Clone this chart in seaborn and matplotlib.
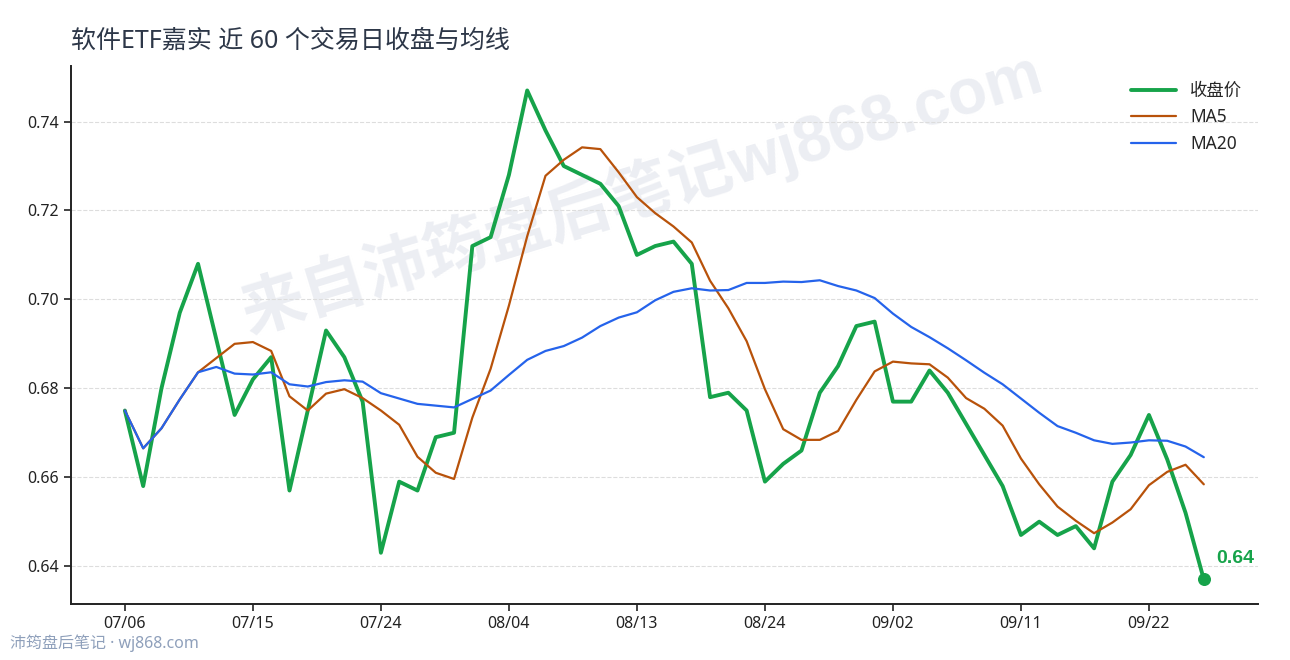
import numpy as np
import pandas as pd
import matplotlib
matplotlib.use("Agg")
import matplotlib.pyplot as plt
import seaborn as sns

# 60 trading days, 2020-07-06 .. 2020-09-25
dates = pd.bdate_range("2020-07-06", "2020-09-25").strftime("%m/%d").tolist()

close = [0.675, 0.658, 0.680, 0.697, 0.708, 0.691, 0.674, 0.682, 0.687, 0.657,
         0.675, 0.693, 0.687, 0.677, 0.643, 0.659, 0.657, 0.669, 0.670, 0.712,
         0.714, 0.728, 0.747, 0.738, 0.730, 0.728, 0.726, 0.721, 0.710, 0.712,
         0.713, 0.708, 0.678, 0.679, 0.675, 0.659, 0.663, 0.666, 0.679, 0.685,
         0.694, 0.695, 0.677, 0.677, 0.684, 0.679, 0.672, 0.665, 0.658, 0.647,
         0.650, 0.647, 0.649, 0.644, 0.659, 0.665, 0.674, 0.664, 0.652, 0.637]

ma5 = [0.6750, 0.6665, 0.6710, 0.6775, 0.6836, 0.6868, 0.6900, 0.6904, 0.6884, 0.6782,
       0.6750, 0.6788, 0.6798, 0.6778, 0.6750, 0.6718, 0.6646, 0.6610, 0.6596, 0.6734,
       0.6844, 0.6986, 0.7142, 0.7278, 0.7314, 0.7342, 0.7338, 0.7286, 0.7230, 0.7194,
       0.7164, 0.7128, 0.7042, 0.6980, 0.6906, 0.6798, 0.6708, 0.6684, 0.6684, 0.6704,
       0.6774, 0.6838, 0.6860, 0.6856, 0.6854, 0.6824, 0.6778, 0.6754, 0.6716, 0.6642,
       0.6584, 0.6534, 0.6502, 0.6474, 0.6498, 0.6528, 0.6582, 0.6612, 0.6628, 0.6584]

ma20 = [0.6750, 0.6665, 0.6710, 0.6775, 0.6836, 0.6848, 0.6833, 0.6831, 0.6836, 0.6809,
        0.6804, 0.6814, 0.6818, 0.6815, 0.6789, 0.6777, 0.6765, 0.6761, 0.6757, 0.6776,
        0.6795, 0.6830, 0.6864, 0.6884, 0.6895, 0.6914, 0.6940, 0.6959, 0.6971, 0.6998,
        0.7017, 0.7025, 0.7020, 0.7021, 0.7037, 0.7037, 0.7040, 0.7039, 0.7043, 0.7030,
        0.7020, 0.7003, 0.6968, 0.6938, 0.6915, 0.6890, 0.6863, 0.6835, 0.6809, 0.6777,
        0.6745, 0.6715, 0.6700, 0.6683, 0.6675, 0.6678, 0.6683, 0.6682, 0.6669, 0.6645]

df = pd.DataFrame({"idx": range(len(close)), "date": dates,
                   "close": close, "ma5": ma5, "ma20": ma20})

sns.set_theme(style="white")
plt.rcParams["font.family"] = ["Noto Sans", "Noto Sans CJK SC", "DejaVu Sans"]
plt.rcParams["axes.unicode_minus"] = False
bold_fam = ["Liberation Sans", "Noto Sans CJK SC", "DejaVu Sans"]

fig, ax = plt.subplots(figsize=(12.9, 6.6), dpi=100)
fig.subplots_adjust(left=0.055, right=0.975, top=0.90, bottom=0.085)

green = "#16a34a"
sns.lineplot(data=df, x="idx", y="close", ax=ax, color=green, linewidth=2.8, label="收盘价", zorder=3)
sns.lineplot(data=df, x="idx", y="ma5", ax=ax, color="#b8520a", linewidth=1.6, label="MA5", zorder=3)
sns.lineplot(data=df, x="idx", y="ma20", ax=ax, color="#2563eb", linewidth=1.6, label="MA20", zorder=3)

# last close marker + label
last = df.iloc[-1]
ax.scatter([last["idx"]], [last["close"]], color=green, s=70, zorder=5)
ax.annotate(f"{last['close']:.2f}", (last["idx"], last["close"]),
            xytext=(9, 9), textcoords="offset points", color=green,
            fontsize=14, fontweight="bold", family=bold_fam, va="bottom", ha="left")

ticks = list(range(0, len(dates), 7))
ax.set_xticks(ticks)
ax.set_xticklabels([dates[i] for i in ticks])
ax.set_yticks([0.64, 0.66, 0.68, 0.70, 0.72, 0.74])
ax.set_xlabel("")
ax.set_ylabel("")
ax.tick_params(axis="both", labelsize=11.5, length=5, width=1.2, colors="#222222",
               left=True, bottom=True)
ax.grid(axis="y", linestyle="--", color="#dddddd", linewidth=0.8)
sns.despine(ax=ax)
for s in ["left", "bottom"]:
    ax.spines[s].set_color("#222222")
    ax.spines[s].set_linewidth(1.4)

ax.legend(loc="upper right", frameon=False, fontsize=12.5, handlelength=2.6)

ax.set_title("软件ETF嘉实 近 60 个交易日收盘与均线", loc="left", fontsize=18,
             color="#2d3748", pad=13)

# watermark behind grid and lines
ax.text(0.497, 0.71, "来自沛筠盘后笔记wj868.com", transform=fig.transFigure,
        fontsize=46, fontweight="bold", family=bold_fam, color="#eceef3", rotation=17,
        ha="center", va="center", zorder=0.2)
fig.text(0.008, 0.018, "沛筠盘后笔记 · wj868.com", fontsize=11.5, color="#8fa0bb")

fig.savefig("out.png", dpi=100)
